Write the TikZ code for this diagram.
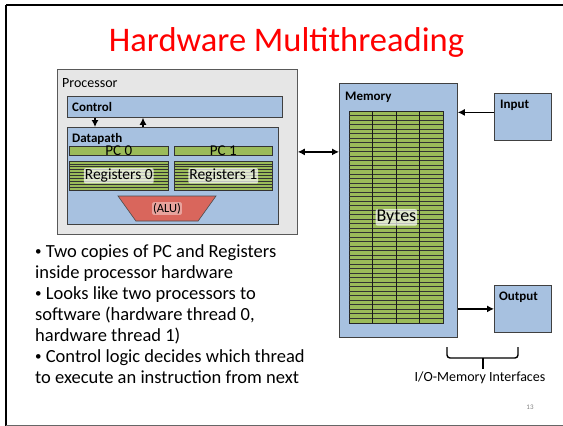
\documentclass[tikz,border=0pt]{standalone}
\usepackage{fontspec}
\setmainfont{Carlito}
\usetikzlibrary{arrows.meta,shapes.geometric}

\definecolor{unitblue}{HTML}{A7C1E0}
\definecolor{regreen}{HTML}{9BBB59}
\definecolor{alured}{HTML}{D9665C}
\definecolor{procgray}{HTML}{E6E6E6}

\newcommand{\dotmark}{{\fontsize{13}{13}\selectfont\raisebox{1.5pt}{•}}\ }

\tikzset{
    unit/.style={draw=black!75, fill=unitblue, line width=0.8pt, anchor=north west, inner sep=0pt},
    bar/.style={draw=black!80, fill=regreen, line width=0.6pt, anchor=north west, inner sep=0pt},
    tag/.style={anchor=west, inner sep=0pt, font=\fontsize{13}{15}\selectfont\bfseries},
    glow/.style={fill=white, fill opacity=.7, text opacity=1, inner sep=1pt, rounded corners=2pt},
    link/.style={line width=1.2pt, -{Latex[length=7pt,width=7pt]}},
}

\begin{document}
\begin{tikzpicture}[x=1pt, y=-1pt]
    \useasboundingbox (0,0) rectangle (563,426);
    % slide frame
    \draw[line width=1.6pt] (6,5) -- (563,5);
    \draw[line width=1.6pt] (6,5) -- (6,426);
    \draw[line width=1pt, black!60] (6,425) -- (563,425);
    \node (title) at (286.5,42) {\fontsize{34.5}{38}\selectfont\color{red}Hardware Multithreading};

    % processor
    \node[unit, fill=procgray, draw=black!65, minimum width=240, minimum height=165] (proc) at (57,69) {};
    \node[anchor=west, inner sep=0pt, font=\fontsize{14}{16}\selectfont] (proclbl) at (62,83) {Processor};
    \node[unit, minimum width=215, minimum height=21] (ctrl) at (67,96) {};
    \node[tag] (ctrllbl) at (72,107) {Control};
    \node[unit, minimum width=211, minimum height=97] (dpath) at (67,127) {};
    \node[tag] (dpathlbl) at (72,139) {Datapath};
    \draw[link] (ctrl.south -| 95,0) -- (dpath.north -| 95,0);
    \draw[link] (dpath.north -| 143,0) -- (ctrl.south -| 143,0);

    % program counters and registers
    \foreach \t/\x/\w in {0/69/99, 1/174/98} {
        \node[bar, minimum width=\w, minimum height=9] (pc\t) at (\x,146) {};
        \node[font=\fontsize{15}{17}\selectfont, inner sep=0pt] at (pc\t.center) {PC \t};
        \node[bar, minimum width=\w, minimum height=29] (reg\t) at (\x,161) {};
        \foreach \k in {1,...,9}
            \draw[black!80, line width=0.7pt] (reg\t.north west) ++(0,\k*2.9) -- ++(\w,0);
        \node[glow, font=\fontsize{15.5}{17}\selectfont] at (reg\t.center) {Registers \t};
    }
    \node[trapezium, trapezium stretches=true, shape border rotate=180, trapezium angle=74,
          minimum width=98, minimum height=25, draw=black!70, fill=alured, line width=0.6pt] (alu) at (167,208.5) {};
    \node[glow, fill opacity=.4, font=\fontsize{12.5}{14}\selectfont] at (alu.center) {(ALU)};

    % memory
    \node[unit, minimum width=118, minimum height=254] (mem) at (339,83) {};
    \node[tag] (memlbl) at (345,97) {Memory};
    \node[bar, draw=black!85, line width=0.8pt, minimum width=94, minimum height=212] (bytes) at (349,111) {};
    \foreach \k in {1,...,46}
        \draw[black!80, line width=0.7pt] (bytes.north west) ++(0,\k*4.5) -- ++(94,0);
    \foreach \c in {1,2,3}
        \draw[black!90, line width=0.8pt] (bytes.north west) ++(\c*23.5,0) -- ++(0,212);
    \node[glow, font=\fontsize{18}{20}\selectfont] at (bytes.center) {Bytes};

    % input and output
    \node[unit, minimum width=57, minimum height=47] (inp) at (494,93) {};
    \node[tag] (inplbl) at (500,105) {Input};
    \node[unit, minimum width=57, minimum height=47] (outp) at (494,285) {};
    \node[tag] (outplbl) at (499,297) {Output};

    \draw[line width=1.2pt, {Latex[length=7pt,width=7pt]}-{Latex[length=7pt,width=7pt]}] (proc.east) -- (proc.east -| mem.west);
    \draw[link] ([yshift=4.5]inp.west) -- ([yshift=4.5]inp.west -| mem.east);
    \draw[link] (outp.west -| mem.east) -- (outp.west);

    % brace under the interfaces
    \draw[line width=1.4pt, rounded corners=3pt] (447,347) -- (447,358) -- (518,358) -- (518,347);
    \draw[line width=1.6pt] (483,358) -- (483,369);
    \node[font=\fontsize{14}{16}\selectfont] (iface) at (480,378) {I/O-Memory Interfaces};
    \node[font=\fontsize{7}{8}\selectfont, text=black!50] (page) at (530,407) {13};

    % notes
    \node[anchor=north west, align=left, inner sep=0pt, font=\fontsize{18.5}{21}\selectfont] (notes) at (35,244) {%
        \dotmark Two copies of PC and Registers\\
        inside processor hardware\\
        \dotmark Looks like two processors to\\
        software (hardware thread 0,\\
        hardware thread 1)\\
        \dotmark Control logic decides which thread\\
        to execute an instruction from next};
\end{tikzpicture}
\end{document}
